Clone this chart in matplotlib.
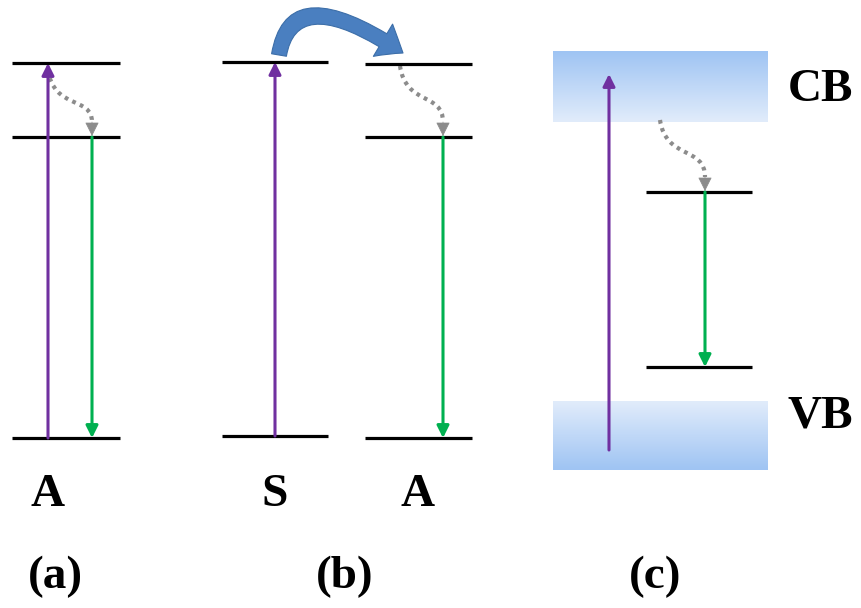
import numpy as np
import matplotlib.pyplot as plt
from matplotlib.patches import FancyArrowPatch, PathPatch
from matplotlib.path import Path

# niveles de energia (coordenadas en pixeles de la imagen)
levels_a = [63, 137, 438]
levels_s = [62, 436]
levels_b_a = [64, 137, 438]
levels_c = [192, 367]
cb_band = (51, 122)
vb_band = (401, 470)

labels_under = ["A", "S", "A"]
panel_labels = ["(a)", "(b)", "(c)"]
band_labels = ["CB", "VB"]

purple = "#7030a0"
green = "#00b050"
grey = "#8c8c8c"

plt.rcParams['font.family'] = ['Liberation Serif', 'DejaVu Serif']

fig = plt.figure(figsize=(8.61, 6.08), dpi=100)
ax = fig.add_axes([0, 0, 1, 1])
ax.set_xlim(0, 861)
ax.set_ylim(608, 0)
ax.axis("off")


def level(x0, x1, y):
    ax.plot([x0, x1], [y, y], color="black", lw=2.3, solid_capstyle="butt")


def arrow(x, y0, y1, color):
    ax.annotate("", xy=(x, y1), xytext=(x, y0),
                arrowprops=dict(arrowstyle="-|>", color=color, lw=2.2,
                                mutation_scale=18, shrinkA=0, shrinkB=0))


def dotted(p0, p1):
    (x0, y0), (x1, y1) = p0, p1
    verts = [(x0, y0), (x0 + 6, y0 + 40), (x1, y0 + 26), (x1, y1 - 14)]
    path = Path(verts, [Path.MOVETO, Path.CURVE4, Path.CURVE4, Path.CURVE4])
    ax.add_patch(PathPatch(path, fill=False, color=grey, lw=3,
                           linestyle=(0, (0.9, 1.1))))
    ax.annotate("", xy=(x1, y1), xytext=(x1, y1 - 14),
                arrowprops=dict(arrowstyle="-|>", color=grey, lw=0.5,
                                mutation_scale=22, shrinkA=0, shrinkB=0))


# panel (a)
for y in levels_a:
    level(12, 120, y)
arrow(48, levels_a[2], levels_a[0], purple)
arrow(92, levels_a[1], levels_a[2], green)
dotted((48, 70), (92, 136))

# panel (b)
for y in levels_s:
    level(222, 328, y)
for y in levels_b_a:
    level(365, 472, y)
arrow(275, levels_s[1], levels_s[0], purple)
arrow(443, levels_b_a[1], levels_b_a[2], green)
dotted((400, 66), (443, 136))

arc = Path([(279, 55), (292, -22), (403, 53)],
           [Path.MOVETO, Path.CURVE3, Path.CURVE3])
blue = FancyArrowPatch(path=arc,
                       arrowstyle="simple,head_length=0.95,head_width=1.5,tail_width=0.6",
                       mutation_scale=18, facecolor="#4a7fc0", edgecolor="#3c6ea8", lw=0.8)
ax.add_patch(blue)

# panel (c) bandas con degradado
grad = np.linspace(0, 1, 100).reshape(-1, 1)
cmap_band = plt.matplotlib.colors.LinearSegmentedColormap.from_list(
    "band", ["#9fc4f3", "#e1ecfb"])
ax.imshow(grad, extent=(553, 768, cb_band[1], cb_band[0]), cmap=cmap_band,
          aspect="auto", origin="upper", zorder=0)
ax.imshow(grad[::-1], extent=(553, 768, vb_band[1], vb_band[0]), cmap=cmap_band,
          aspect="auto", origin="upper", zorder=0)
ax.set_xlim(0, 861)
ax.set_ylim(608, 0)

for y in levels_c:
    level(646, 752, y)
arrow(609, 450, 74, purple)
arrow(705, levels_c[0], levels_c[1], green)
dotted((660, 120), (705, 191))

fs = 34
ax.text(820, 90, band_labels[0], fontsize=fs, fontweight="bold", ha="center", va="center")
ax.text(820, 416, band_labels[1], fontsize=fs, fontweight="bold", ha="center", va="center")

for x, t in zip([48, 275, 418], labels_under):
    ax.text(x, 495, t, fontsize=fs, fontweight="bold", ha="center", va="center")
for x, t in zip([55, 345, 655], panel_labels):
    ax.text(x, 577, t, fontsize=fs, fontweight="bold", ha="center", va="center")

fig.savefig("out.png", dpi=100)
